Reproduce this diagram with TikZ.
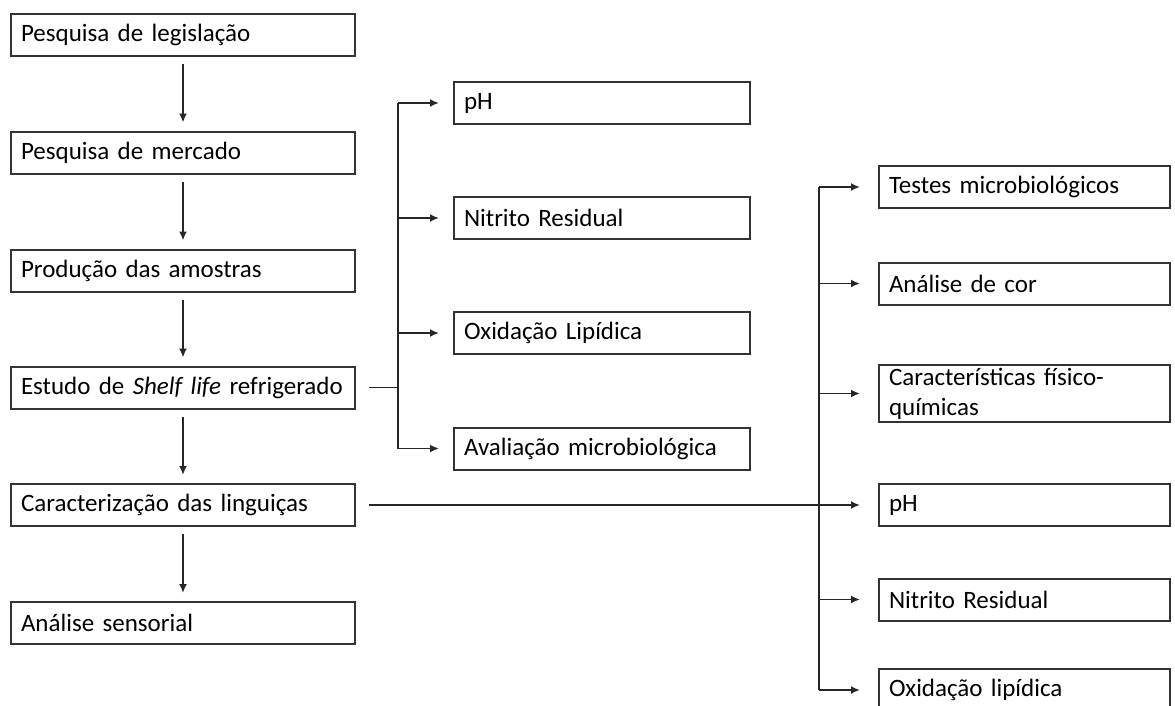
\documentclass[tikz,border=0pt]{standalone}
\usepackage{fontspec}
\setmainfont{Carlito}
\usetikzlibrary{arrows.meta}

\begin{document}
\begin{tikzpicture}
[x=1pt,y=-1pt,
 boxDecorate/.style={draw=black!80,line width=2pt,inner xsep=10pt,
   minimum height=42pt,align=left,font=\fontsize{25}{30}\selectfont},%
 leftBox/.style={boxDecorate,text width=324pt},%
 midBox/.style={boxDecorate,text width=276pt},%
 rightBox/.style={boxDecorate,text width=271pt},%
 lineDecorate/.style={-,line width=1.8pt,draw=black!85},%
 arrowDecorate/.style={lineDecorate,-{Latex[length=9pt,width=8pt]}}]
\path[use as bounding box,clip] (0,0) rectangle (1175,705);
%% main steps
\foreach \nodename/\y/\txt in {
  legislacao/34.5/Pesquisa de legislação, mercado/152.5/Pesquisa de mercado,
  amostras/270.5/Produção das amostras,
  shelflife/387.5/Estudo de \textit{Shelf life} refrigerado,
  caracterizacao/505/Caracterização das linguiças, sensorial/623/Análise sensorial}
{
  \node (\nodename) at (183,\y) [leftBox] {\txt};
}
%% shelf life analyses
\foreach \nodename/\y/\txt in {
  phA/103/pH, nitritoA/218/Nitrito Residual, oxidacaoA/333/Oxidação Lipídica,
  avaliacao/448.5/Avaliação microbiológica}
{
  \node (\nodename) at (602,\y) [midBox] {\txt};
}
%% characterization analyses
\foreach \nodename/\y/\txt in {
  testes/187/Testes microbiológicos, cor/283.5/Análise de cor,
  fisqui/393.5/{Características físico-\\químicas}, phB/505/pH,
  nitritoB/599.5/Nitrito Residual, oxidacaoB/690/Oxidação lipídica}
{
  \node (\nodename) at (1024.5,\y) [rightBox] {\txt};
}
%% steps in sequence
\path
\foreach \startnode/\endnode in {legislacao/mercado, mercado/amostras,
  amostras/shelflife, shelflife/caracterizacao, caracterizacao/sensorial}
{
  (\startnode) edge[arrowDecorate,shorten <=7pt,shorten >=8pt] (\endnode)
};
%% branches
\coordinate (busA) at (398,0);
\coordinate (busB) at (819,0);
\draw[lineDecorate] ([xshift=13pt]shelflife.east) -- (busA |- shelflife.east);
\draw[lineDecorate] (busA |- phA.west) -- (busA |- avaliacao.west);
\foreach \endnode in {phA, nitritoA, oxidacaoA, avaliacao}
{
  \draw[arrowDecorate,shorten >=14pt] (busA |- \endnode.west) -- (\endnode.west);
}
\draw[arrowDecorate,shorten >=18pt] ([xshift=13pt]caracterizacao.east) -- (phB.west);
\draw[lineDecorate] (busB |- testes.west) -- (busB |- oxidacaoB.west);
\foreach \endnode in {testes, cor, fisqui, nitritoB, oxidacaoB}
{
  \draw[arrowDecorate,shorten >=18pt] (busB |- \endnode.west) -- (\endnode.west);
}
\end{tikzpicture}
\end{document}
